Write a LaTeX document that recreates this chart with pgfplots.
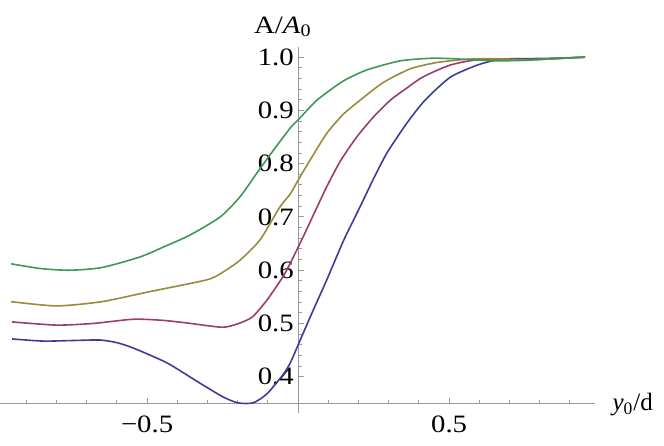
\documentclass[border=0pt]{standalone}
\usepackage{fontspec}
\setmainfont{Liberation Serif}
\usepackage{graphicx}
\usepackage{pgfplots}
\pgfplotsset{compat=1.18}
\definecolor{mBlue}{rgb}{0.24,0.24,0.6}
\definecolor{mPurple}{rgb}{0.6,0.24,0.442}
\definecolor{mGold}{rgb}{0.6,0.547,0.24}
\definecolor{mGreen}{rgb}{0.24,0.6,0.33}
\definecolor{axgray}{gray}{0.6}
\newcommand{\wide}[1]{\scalebox{1.15}[1]{#1}}
\begin{document}
\begin{tikzpicture}
\begin{axis}[
  scale only axis,
  width=297.5pt, height=183pt,
  xmin=-0.987, xmax=0.983,
  ymin=0.332, ymax=1.019,
  axis x line=bottom,
  axis y line=middle,
  axis x line shift=-4.75pt,
  axis line style={draw=axgray, line width=0.5pt, -},
  tick style={draw=axgray, line width=0.5pt},
  tick align=inside,
  major tick length=3pt,
  minor tick length=2pt,
  xtick={-0.5,0.5},
  xticklabels={\wide{−0.5},\wide{0.5}},
  minor xtick={-0.9,-0.8,-0.7,-0.6,-0.4,-0.3,-0.2,-0.1,0.1,0.2,0.3,0.4,0.6,0.7,0.8,0.9},
  ytick={0.4,0.5,0.6,0.7,0.8,0.9,1.0},
  yticklabels={\wide{0.4},\wide{0.5},\wide{0.6},\wide{0.7},\wide{0.8},\wide{0.9},\wide{1.0}},
  minor y tick num=4,
  ticklabel style={font=\fontsize{12.5}{14}\selectfont},
  yticklabel style={anchor=east, inner sep=0pt, xshift=-2pt},
  xticklabel style={anchor=north, inner sep=0pt, yshift=-6pt},
  clip=false,
  every axis plot/.append style={line width=0.8pt, smooth, tension=0.4},
]
\addplot[mBlue] coordinates {
  (-0.947,0.471) (-0.844,0.467) (-0.75,0.468) (-0.656,0.469) (-0.6,0.464)
  (-0.546,0.454) (-0.434,0.426) (-0.325,0.388) (-0.248,0.362) (-0.199,0.351)
  (-0.149,0.351) (-0.103,0.368) (-0.05,0.404) (-0.026,0.426) (0.007,0.469)
  (0.05,0.525) (0.095,0.582) (0.15,0.655) (0.205,0.719) (0.25,0.772)
  (0.294,0.82) (0.36,0.876) (0.42,0.919) (0.503,0.962) (0.593,0.985)
  (0.669,0.996) (0.75,0.997) (0.85,0.998) (0.95,1.0)
};
\addplot[mPurple] coordinates {
  (-0.947,0.503) (-0.8,0.497) (-0.68,0.500) (-0.546,0.508) (-0.45,0.506)
  (-0.368,0.501) (-0.252,0.493) (-0.202,0.499) (-0.152,0.512) (-0.103,0.544)
  (-0.05,0.588) (-0.026,0.613) (0.017,0.663) (0.05,0.703) (0.095,0.757)
  (0.14,0.805) (0.194,0.85) (0.25,0.888) (0.305,0.919) (0.36,0.942)
  (0.414,0.963) (0.503,0.985) (0.593,0.995) (0.7,0.995) (0.8,0.996) (0.95,1.0)
};
\addplot[mGold] coordinates {
  (-0.95,0.541) (-0.8,0.533) (-0.65,0.541) (-0.49,0.560) (-0.302,0.582)
  (-0.25,0.596) (-0.192,0.619) (-0.126,0.657) (-0.06,0.719) (-0.026,0.743)
  (0,0.769) (0.04,0.807) (0.095,0.857) (0.15,0.893) (0.205,0.919)
  (0.281,0.952) (0.371,0.978) (0.46,0.990) (0.56,0.996) (0.65,0.997)
  (0.75,0.995) (0.85,0.997) (0.95,1.0)
};
\addplot[mGreen] coordinates {
  (-0.95,0.612) (-0.85,0.603) (-0.755,0.600) (-0.65,0.605) (-0.523,0.625)
  (-0.44,0.645) (-0.358,0.666) (-0.258,0.70) (-0.192,0.738) (-0.137,0.782)
  (-0.082,0.825) (-0.026,0.867) (0,0.882) (0.062,0.919) (0.149,0.955)
  (0.228,0.976) (0.338,0.993) (0.447,0.998) (0.55,0.996) (0.65,0.993)
  (0.75,0.994) (0.85,0.997) (0.95,1.0)
};
\node[anchor=base, font=\fontsize{12.5}{14}\selectfont] at (axis cs:-0.05,1.045)
  {\wide{A/\textit{A}\textsubscript{0}}};
\node[anchor=west, inner sep=0pt, font=\fontsize{12.5}{14}\selectfont] at (axis cs:1.04,0.347)
  {\textit{y}\textsubscript{0}/d};
\coordinate (bl) at (rel axis cs:0,0);
\end{axis}
\pgfresetboundingbox
\path (bl) ++(0,-16pt) rectangle ++(332pt,222.5pt);
\end{tikzpicture}
\end{document}
